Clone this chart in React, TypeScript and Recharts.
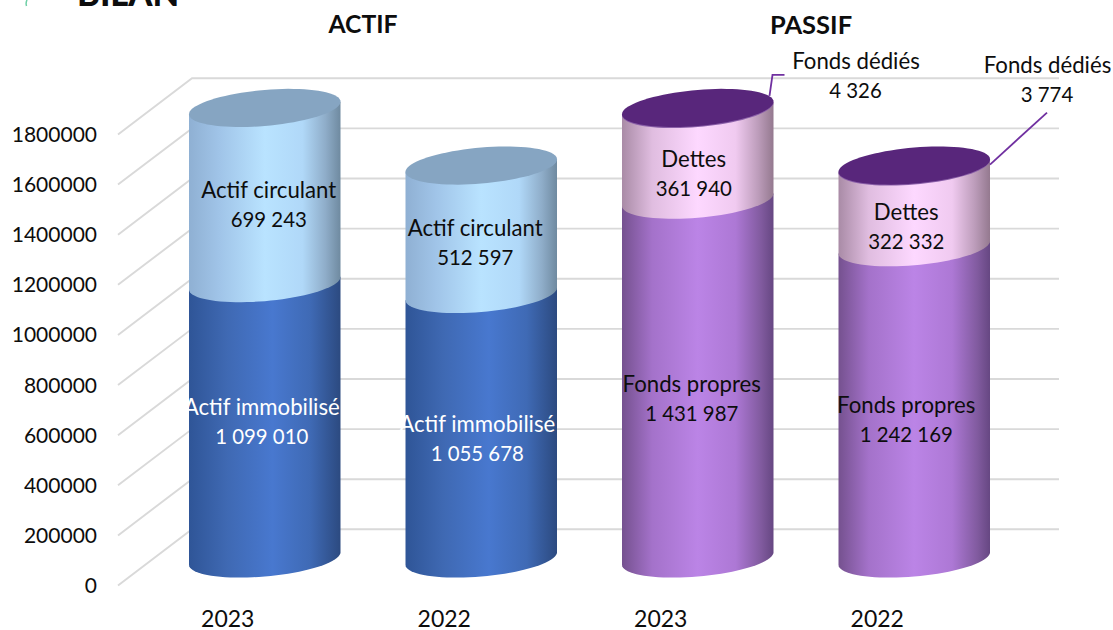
import React from 'react';
import { BarChart, Bar, XAxis, YAxis, CartesianGrid, LabelList } from 'recharts';

const groups = ['ACTIF', 'ACTIF', 'PASSIF', 'PASSIF'];
const years = ['2023', '2022', '2023', '2022'];
const actifImmobilise = [1099010, 1055678, null, null];
const actifCirculant = [699243, 512597, null, null];
const fondsPropres = [null, null, 1431987, 1242169];
const dettes = [null, null, 361940, 322332];
const fondsDedies = [null, null, 4326, 3774];
const yTicks = [0, 200000, 400000, 600000, 800000, 1000000, 1200000, 1400000, 1600000, 1800000];

const data = years.map((y, i) => ({
  key: `${groups[i]} ${y}`,
  actifImmobilise: actifImmobilise[i],
  actifCirculant: actifCirculant[i],
  fondsPropres: fondsPropres[i],
  dettes: dettes[i],
  fondsDedies: fondsDedies[i],
}));

const FONT = 'Lato, Carlito, sans-serif';
const TEXT = '#0d0d0d';
const NAME_SIZE = 22.2;
const NUM_SIZE = 20.4;
const SKEW = 6.3;
const RY = 18;

// layout of the pseudo-3D: back wall and axis labels are shifted from the bar baseline
const WALL_DY = -29.2;
const FRONT_DY = 27;
const WALL_LEFT = 192;
const WALL_RIGHT = 1059;
const FLOOR_LEFT = 118;

const fmt = (v: number) => String(v).replace(/\B(?=(\d{3})+$)/g, '\u00a0');

const ell = (cx: number, cy: number, a: number, t: number) => [
  cx + a * Math.cos(t),
  cy - SKEW * Math.cos(t) + RY * Math.sin(t),
];
const frontArc = (cx: number, cy: number, a: number) => {
  const pts: string[] = [];
  for (let i = 0; i <= 40; i++) {
    const t = Math.PI - (Math.PI * i) / 40;
    const p = ell(cx, cy, a, t);
    pts.push(`${p[0].toFixed(2)} ${p[1].toFixed(2)}`);
  }
  return pts;
};
const fullEllipse = (cx: number, cy: number, a: number) => {
  const pts: string[] = [];
  for (let i = 0; i < 80; i++) {
    const p = ell(cx, cy, a, (2 * Math.PI * i) / 80);
    pts.push(`${p[0].toFixed(2)} ${p[1].toFixed(2)}`);
  }
  return `M${pts.join('L')}Z`;
};

const cylinder = (fill: string, capFill?: string) => (props: any) => {
  const { x, y, width, height } = props;
  if (!width || height == null || !(height > 0)) return <g />;
  const a = width / 2;
  const cx = x + a;
  const bottom = y + height;
  const lower = frontArc(cx, bottom, a);
  const upperLeft = ell(cx, y, a, Math.PI);
  const upperRight = ell(cx, y, a, 0);
  const close = `L${upperRight[0]} ${upperRight[1]}L${upperLeft[0]} ${upperLeft[1]}Z`;
  return (
    <g>
      <path d={`M${lower.join('L')}${close}`} fill={`url(#${fill})`} />
      {capFill ? <path d={fullEllipse(cx, y, a)} fill={capFill} /> : null}
    </g>
  );
};

const twoLineLabel = (name: string, color: string, nudge: number[][]) => (props: any) => {
  const { x, y, width, height, value, index } = props;
  if (value == null || !nudge[index]) return <g />;
  const cx = x + width / 2 + nudge[index][0];
  const cy = y + height / 2 + nudge[index][1];
  return (
    <text textAnchor="middle" fontFamily={FONT} fill={color}>
      <tspan x={cx} y={cy - 8} fontSize={NAME_SIZE}>{name}</tspan>
      <tspan x={cx} y={cy + 21} fontSize={NUM_SIZE}>{fmt(value)}</tspan>
    </text>
  );
};

const dediesLabel = (props: any) => {
  const { x, y, width, value, index } = props;
  if (value == null) return <g />;
  const right = x + width;
  const first = index === 2;
  const lx = first ? right + 83 : right + 58;
  const ty = first ? y - 39 : y - 93;
  const leader = first
    ? `${right - 4} ${y - 12} ${right - 1} ${y - 33} ${right + 11} ${y - 33}`
    : `${right} ${y - 1} ${right + 57} ${y - 53}`;
  return (
    <g>
      <polyline points={leader} fill="none" stroke="#7030a0" strokeWidth={1.8} />
      <text textAnchor="middle" fontFamily={FONT} fill={TEXT}>
        <tspan x={lx - 0.5} y={ty} fontSize={NAME_SIZE}>Fonds dédiés</tspan>
        <tspan x={lx - 1} y={ty + 29} fontSize={NUM_SIZE}>{fmt(value)}</tspan>
      </text>
    </g>
  );
};

const gridLine = (props: any) => {
  const { y1, key } = props;
  const wy = y1 + WALL_DY;
  return (
    <g key={key}>
      <polyline
        points={`${FLOOR_LEFT} ${y1 + FRONT_DY} ${WALL_LEFT} ${wy} ${WALL_RIGHT} ${wy}`}
        fill="none"
        stroke="#d9d9d9"
        strokeWidth={1.9}
      />
    </g>
  );
};

const yTick = (props: any) => {
  const { y, payload } = props;
  return (
    <text x={97} y={y + FRONT_DY + 7.5} textAnchor="end" fontFamily={FONT} fontSize={21} fill={TEXT}>
      {payload.value}
    </text>
  );
};

const xTick = (props: any) => {
  const { x, payload, index } = props;
  return (
    <text x={x - 36.5} y={627} textAnchor="middle" fontFamily={FONT} fontSize={23} fill={TEXT}>
      {years[index] ?? payload.value}
    </text>
  );
};

const Grad = ({ id, stops }: { id: string; stops: [number, string][] }) => (
  <linearGradient id={id} x1="0" y1="0" x2="1" y2="0">
    {stops.map(([o, c]) => (
      <stop key={o} offset={o} stopColor={c} />
    ))}
  </linearGradient>
);

export default function App() {
  return (
    <div style={{ position: 'absolute', left: 0, top: 0, width: 1113, height: 630, overflow: 'hidden' }}>
      <BarChart
        width={1113}
        height={630}
        data={data}
        margin={{ top: 107.5, right: 91, bottom: 0, left: 56 }}
        barCategoryGap={0}
      >
        <defs>
          <Grad id="gBlue" stops={[[0, '#2f5597'], [0.25, '#3f69b3'], [0.55, '#4878cf'], [0.8, '#3f6ab5'], [1, '#2c4a80']]} />
          <Grad id="gSky" stops={[[0, '#8fb0d3'], [0.2, '#a0c4e8'], [0.5, '#b9e3ff'], [0.75, '#b0d8f8'], [0.9, '#8fadc9'], [1, '#6f8aa0']]} />
          <Grad id="gPurple" stops={[[0, '#75518f'], [0.2, '#a472ca'], [0.5, '#bb84e6'], [0.75, '#ad78d5'], [0.92, '#805a9e'], [1, '#664782']]} />
          <Grad id="gPink" stops={[[0, '#a98ba6'], [0.2, '#e0bde0'], [0.5, '#fdd8ff'], [0.75, '#f0caf0'], [0.9, '#bc9cba'], [1, '#94798f']]} />
          <Grad id="gDark" stops={[[0, '#8a5fa8'], [1, '#8a5fa8']]} />
        </defs>
        <CartesianGrid horizontal={gridLine} vertical={false} />
        <XAxis dataKey="key" axisLine={false} tickLine={false} height={71.5} tick={xTick} interval={0} />
        <YAxis width={100} domain={[0, 1800000]} ticks={yTicks} axisLine={false} tickLine={false} tick={yTick} interval={0} />
        <Bar dataKey="actifImmobilise" stackId="s" barSize={151.5} isAnimationActive={false} shape={cylinder('gBlue')}>
          <LabelList dataKey="actifImmobilise" content={twoLineLabel('Actif immobilisé', '#ffffff', [[-3, 2.5], [-4, 13.5]])} />
        </Bar>
        <Bar dataKey="actifCirculant" stackId="s" barSize={151.5} isAnimationActive={false} shape={cylinder('gSky', '#86a5c2')}>
          <LabelList dataKey="actifCirculant" content={twoLineLabel('Actif circulant', TEXT, [[4, 10.5], [-6, 14.5]])} />
        </Bar>
        <Bar dataKey="fondsPropres" stackId="s" barSize={151.5} isAnimationActive={false} shape={cylinder('gPurple')}>
          <LabelList dataKey="fondsPropres" content={twoLineLabel('Fonds propres', TEXT, [null, null, [-6, 20.5], [-8, 18.5]] as any)} />
        </Bar>
        <Bar dataKey="dettes" stackId="s" barSize={151.5} isAnimationActive={false} shape={cylinder('gPink')}>
          <LabelList dataKey="dettes" content={twoLineLabel('Dettes', TEXT, [null, null, [-4, 20.5], [-8, 21]] as any)} />
        </Bar>
        <Bar dataKey="fondsDedies" stackId="s" barSize={151.5} isAnimationActive={false} shape={cylinder('gDark', '#58267b')}>
          <LabelList dataKey="fondsDedies" content={dediesLabel} />
        </Bar>
        <text x={363} y={33} textAnchor="middle" fontFamily={FONT} fontSize={24.7} fontWeight={700} fill="#0d0d0d">ACTIF</text>
        <text x={811} y={34} textAnchor="middle" fontFamily={FONT} fontSize={25.5} fontWeight={700} fill="#0d0d0d">PASSIF</text>
        <text x={77} y={6} fontFamily={FONT} fontSize={34.5} fontWeight={900} fill="#0d0d0d">BILAN</text>
        <path d="M27 0 Q25.5 3 26.5 6" fill="none" stroke="#6fcfa6" strokeWidth={1.5} />
      </BarChart>
    </div>
  );
}
